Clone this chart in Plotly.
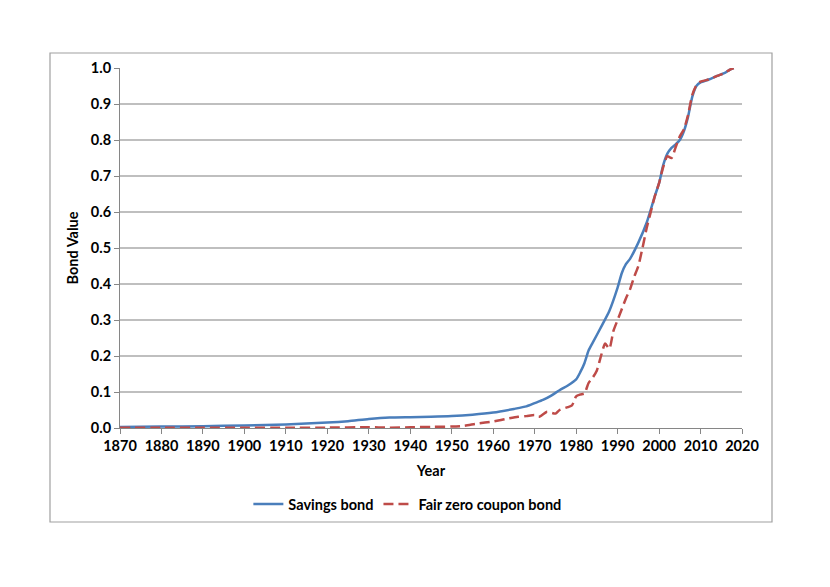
import plotly.graph_objects as go

years_savings = [1870, 1880, 1890, 1900, 1910, 1920, 1925, 1930, 1935, 1940, 1945, 1950, 1955,
                 1960, 1965, 1968, 1970, 1972, 1974, 1976, 1978, 1980, 1981, 1982, 1983, 1984,
                 1986, 1988, 1990, 1991, 1992, 1993, 1995, 1997, 1999, 2000, 2001, 2002, 2003,
                 2004, 2005, 2006, 2007, 2008, 2009, 2010, 2012, 2014, 2016, 2017, 2018]
savings_bond = [0.003, 0.004, 0.005, 0.007, 0.010, 0.015, 0.019, 0.025, 0.029, 0.030, 0.031, 0.033,
                0.037, 0.043, 0.053, 0.060, 0.069, 0.078, 0.090, 0.105, 0.118, 0.135, 0.155, 0.180,
                0.215, 0.237, 0.280, 0.325, 0.390, 0.430, 0.455, 0.470, 0.515, 0.570, 0.645, 0.680,
                0.730, 0.762, 0.778, 0.788, 0.800, 0.825, 0.865, 0.920, 0.950, 0.960, 0.968, 0.978,
                0.987, 0.995, 1.000]

years_fair = [1870, 1880, 1890, 1900, 1910, 1920, 1930, 1935, 1940, 1945, 1950, 1953, 1956, 1960,
              1963, 1966, 1968, 1970, 1971, 1973, 1975, 1976, 1978, 1979, 1980, 1981, 1982, 1983,
              1984, 1985, 1986, 1987, 1988, 1989, 1990, 1991, 1992, 1993, 1994, 1995, 1996, 1997,
              1998, 1999, 2000, 2001, 2002, 2003, 2004, 2005, 2006, 2007, 2008, 2009, 2010, 2012,
              2014, 2016, 2017, 2018]
fair_zero = [0.001, 0.001, 0.001, 0.001, 0.001, 0.001, 0.002, 0.001, 0.002, 0.003, 0.004, 0.006,
             0.012, 0.018, 0.025, 0.031, 0.033, 0.036, 0.031, 0.045, 0.040, 0.050, 0.058, 0.063,
             0.088, 0.093, 0.096, 0.125, 0.140, 0.160, 0.200, 0.235, 0.220, 0.270, 0.300, 0.330,
             0.360, 0.385, 0.420, 0.450, 0.500, 0.555, 0.600, 0.645, 0.680, 0.725, 0.755, 0.750,
             0.780, 0.810, 0.830, 0.870, 0.925, 0.952, 0.962, 0.968, 0.978, 0.987, 0.995, 1.000]

x_ticks = list(range(1870, 2021, 10))
y_ticks = [round(i * 0.1, 1) for i in range(11)]

FONT = "Lato"
FS = 14.5

fig = go.Figure()
fig.add_trace(go.Scatter(x=years_savings, y=savings_bond, mode="lines", name="Savings bond",
                         line=dict(color="#4A7EBB", width=2.5, shape="spline", smoothing=0.6)))
fig.add_trace(go.Scatter(x=years_fair, y=fair_zero, mode="lines", name="Fair zero coupon bond",
                         line=dict(color="#BE4B48", width=2.5, dash="10px,5px", shape="spline", smoothing=0.6)))

# plot area in page pixels: x 120..742, y 68..428 (page has 8px body offset)
fig.update_layout(
    width=830, height=587,
    margin=dict(l=112, r=96, t=60, b=167),
    paper_bgcolor="white", plot_bgcolor="white",
    font=dict(family=FONT, size=FS, color="black"),
    showlegend=True,
    legend=dict(orientation="h", x=0.462, xanchor="center", y=-0.211, yanchor="middle",
                font=dict(family=FONT, size=FS, color="black", weight="bold"),
                itemwidth=30, tracegroupgap=0),
    xaxis=dict(range=[1870, 2020], tickvals=x_ticks, ticktext=[str(v) for v in x_ticks],
               showgrid=False, showline=True, linecolor="#868686", linewidth=1,
               ticks="outside", ticklen=5, tickcolor="#868686", zeroline=False,
               tickfont=dict(family=FONT, size=FS, weight="bold"),
               title=dict(text="<b>Year</b>", font=dict(family=FONT, size=FS), standoff=12)),
    yaxis=dict(range=[0, 1.0], tickvals=y_ticks, ticktext=[f"{v:.1f}" for v in y_ticks],
               showgrid=True, gridcolor="#BFBFBF", gridwidth=1.5,
               showline=True, linecolor="#868686", linewidth=1,
               ticks="outside", ticklen=5, tickcolor="#868686", zeroline=False,
               tickfont=dict(family=FONT, size=FS, weight="bold"),
               title=dict(text="<b>Bond Value</b>", font=dict(family=FONT, size=FS), standoff=8)),
    shapes=[dict(type="rect", xref="paper", yref="paper",
                 x0=(50 - 120) / 622, x1=(772 - 120) / 622,
                 y0=(428 - 522) / 360, y1=(428 - 53) / 360,
                 line=dict(color="#A0A0A0", width=1.2), fillcolor="rgba(0,0,0,0)", layer="below")],
)

fig.write_html("out.html")
